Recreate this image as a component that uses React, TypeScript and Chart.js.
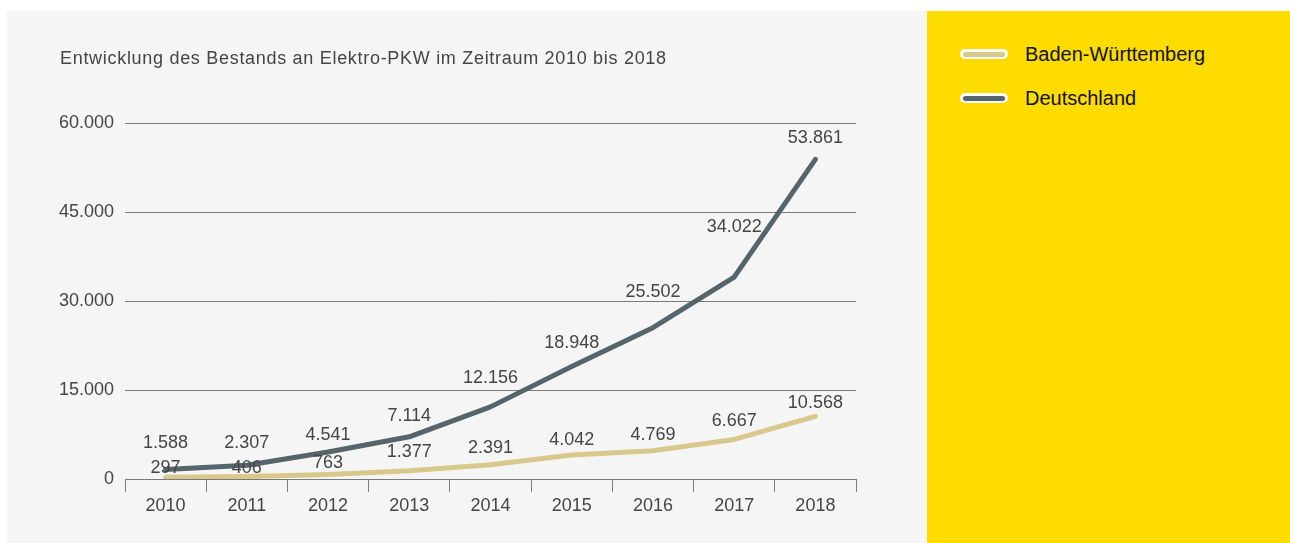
import React, { useEffect, useRef } from "react";
import { Chart, registerables } from "chart.js";

Chart.register(...registerables);

const years = ["2010", "2011", "2012", "2013", "2014", "2015", "2016", "2017", "2018"];
const badenWuerttemberg = [297, 406, 763, 1377, 2391, 4042, 4769, 6667, 10568];
const deutschland = [1588, 2307, 4541, 7114, 12156, 18948, 25502, 34022, 53861];
const yTicks = [0, 15000, 30000, 45000, 60000];

// label placement (pixels above each point)
const bwLabelLift = [9, 9, 11, 19, 17, 15, 16, 18, 13];
const deLabelLift = [27, 22, 17, 21, 29, 24, 36, 50, 21];

const titleText = "Entwicklung des Bestands an Elektro-PKW im Zeitraum 2010 bis 2018";
const seriesNames = ["Baden-Württemberg", "Deutschland"];

const COLOR_BW = "#d9c88b";
const COLOR_DE = "#56646b";
const TEXT = "#454545";
const GRID = "#7a7a7a";
const FONT = "'Liberation Sans', Arial, sans-serif";

const fmt = (n: number) => String(n).replace(/\B(?=(\d{3})+(?!\d))/g, ".");

const labelsPlugin = {
  id: "pointLabels",
  afterDatasetsDraw(chart: any) {
    const ctx = chart.ctx;
    ctx.save();
    ctx.font = `18px ${FONT}`;
    ctx.fillStyle = TEXT;
    ctx.textAlign = "center";
    ctx.textBaseline = "middle";
    chart.data.datasets.forEach((ds: any, di: number) => {
      const meta = chart.getDatasetMeta(di);
      const lifts = di === 0 ? bwLabelLift : deLabelLift;
      meta.data.forEach((pt: any, i: number) => {
        ctx.fillText(fmt(ds.data[i]), pt.x, pt.y - lifts[i]);
      });
    });
    ctx.restore();
  },
};

const titlePlugin = {
  id: "leftTitle",
  afterDraw(chart: any) {
    const ctx = chart.ctx;
    ctx.save();
    ctx.font = `18px ${FONT}`;
    (ctx as any).letterSpacing = "0.7px";
    ctx.fillStyle = TEXT;
    ctx.textAlign = "left";
    ctx.textBaseline = "middle";
    ctx.fillText(titleText, 53, 48);
    ctx.restore();
  },
};

function LegendItem({ color, label }: { color: string; label: string }) {
  return (
    <div style={{ display: "flex", alignItems: "center", height: 24, marginBottom: 20 }}>
      <div
        style={{
          width: 48,
          height: 10,
          borderRadius: 5,
          background: "#ffffff",
          display: "flex",
          alignItems: "center",
          justifyContent: "center",
        }}
      >
        <div style={{ width: 42, height: 5, borderRadius: 3, background: color }} />
      </div>
      <span
        style={{
          marginLeft: 17,
          fontFamily: FONT,
          fontSize: 20,
          color: "#111",
        }}
      >
        {label}
      </span>
    </div>
  );
}

export default function App() {
  const ref = useRef<HTMLCanvasElement | null>(null);

  useEffect(() => {
    if (!ref.current) return;
    const chart = new Chart(ref.current, {
      type: "line",
      data: {
        labels: years,
        datasets: [
          {
            label: seriesNames[0],
            data: badenWuerttemberg,
            borderColor: COLOR_BW,
            borderWidth: 5,
            pointRadius: 0,
            tension: 0,
            borderCapStyle: "round",
            borderJoinStyle: "round",
          },
          {
            label: seriesNames[1],
            data: deutschland,
            borderColor: COLOR_DE,
            borderWidth: 5,
            pointRadius: 0,
            tension: 0,
            borderCapStyle: "round",
            borderJoinStyle: "round",
          },
        ],
      },
      options: {
        responsive: false,
        animation: false,
        devicePixelRatio: 1,
        layout: { padding: { top: 112, left: 0, right: 71, bottom: 0 } },
        plugins: {
          legend: { display: false },
          title: { display: false },
          tooltip: { enabled: false },
        },
        scales: {
          x: {
            offset: true,
            grid: {
              offset: true,
              drawOnChartArea: false,
              drawTicks: true,
              tickLength: 13,
              color: GRID,
            },
            border: { display: true, color: GRID },
            ticks: {
              padding: 3,
              color: TEXT,
              font: { family: FONT, size: 18 },
              maxRotation: 0,
            },
            afterFit(scale: any) {
              scale.height = 64;
            },
          },
          y: {
            min: yTicks[0],
            max: yTicks[yTicks.length - 1],
            afterBuildTicks(scale: any) {
              scale.ticks = yTicks.map((v) => ({ value: v }));
            },
            grid: { drawTicks: false, color: GRID },
            border: { display: false },
            ticks: {
              padding: 11,
              color: TEXT,
              font: { family: FONT, size: 18 },
              callback: (v: any) => fmt(Number(v)),
            },
            afterFit(scale: any) {
              scale.width = 118;
            },
          },
        },
      },
      plugins: [labelsPlugin, titlePlugin],
    } as any);
    return () => chart.destroy();
  }, []);

  return (
    <div
      style={{
        position: "absolute",
        left: 7,
        top: 11,
        width: 1283,
        height: 532,
        display: "flex",
      }}
    >
      <div style={{ width: 920, height: 532, background: "#f5f5f5" }}>
        <canvas ref={ref} width={920} height={532} style={{ width: 920, height: 532, display: "block" }} />
      </div>
      <div style={{ position: "relative", flex: 1, height: 532, background: "#ffdc00" }}>
        <div style={{ position: "absolute", left: 33, top: 31 }}>
          <LegendItem color={COLOR_BW} label={seriesNames[0]} />
          <LegendItem color={COLOR_DE} label={seriesNames[1]} />
        </div>
      </div>
    </div>
  );
}
